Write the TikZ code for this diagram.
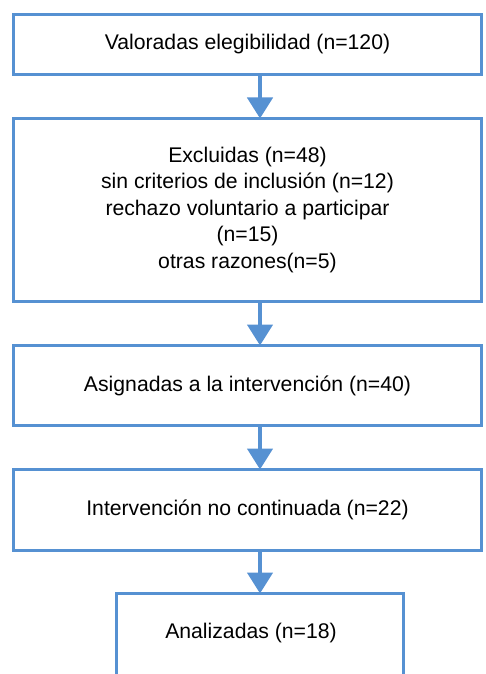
\documentclass[tikz,border=0pt]{standalone}
\usepackage{fontspec}
\setmainfont{Liberation Sans}
\usetikzlibrary{arrows.meta}
\definecolor{flowblue}{RGB}{86,145,210}
\tikzset{
  flowbox/.style={draw=flowblue, line width=3pt, fill=white, rectangle, outer sep=0pt, inner sep=0pt, align=center,
    font=\fontsize{21.2pt}{26.5pt}\selectfont},
  flowtext/.style={align=center, inner sep=0pt, font=\fontsize{21.2pt}{26.5pt}\selectfont},
  flowarrow/.style={draw=flowblue, line width=4.5pt, -{Triangle[width=25pt,length=21pt]}}
}
\begin{document}
\begin{tikzpicture}[x=1pt,y=-1pt]
\useasboundingbox (0,0) rectangle (485,674);
\node[flowbox, minimum width=468pt, minimum height=60pt] (b1) at (247.5,44.5) {Valoradas elegibilidad (n=120)};
\node[flowbox, minimum width=468pt, minimum height=183pt] (b2) at (247.5,210) {Excluidas (n=48)\\sin criterios de inclusión (n=12)\\rechazo voluntario a participar\\(n=15)\\otras razones(n=5)};
\node[flowbox, minimum width=468pt, minimum height=80pt] (b3) at (247.5,385.5) {Asignadas a la intervención (n=40)};
\node[flowbox, minimum width=468pt, minimum height=81pt] (b4) at (247.5,510) {Intervención no continuada (n=22)};
\node[flowbox, minimum width=287pt, minimum height=86.5pt] (b5) at (260,636.75) {};
\node[flowtext] (t5) at (251,633) {Analizadas (n=18)};
\draw[flowarrow] (b1.south -| b5.north) -- (b2.north -| b5.north);
\draw[flowarrow] (b2.south -| b5.north) -- (b3.north -| b5.north);
\draw[flowarrow] (b3.south -| b5.north) -- (b4.north -| b5.north);
\draw[flowarrow] (b4.south -| b5.north) -- (b5.north);
\end{tikzpicture}
\end{document}
